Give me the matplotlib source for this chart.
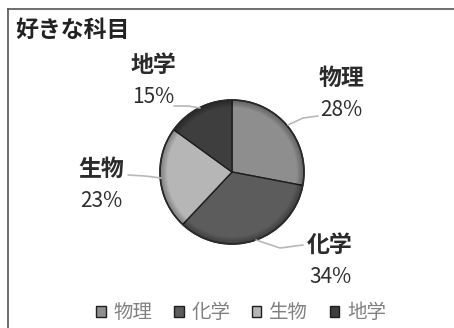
import numpy as np
import matplotlib
matplotlib.use('Agg')
import matplotlib.pyplot as plt
from matplotlib.patches import Wedge
from matplotlib.lines import Line2D

plt.rcParams['font.family'] = ['Noto Sans CJK JP', 'DejaVu Sans']

TITLE = '好きな科目'
subjects = ['物理', '化学', '生物', '地学']
shares = [28, 34, 23, 15]
slice_colors = ['#8e8e8e', '#5c5c5c', '#b6b6b6', '#3e3e3e']

W, H = 454, 328
CX, CY, R = 232, 172, 72   # pie centre and radius in pixels


def px(x, y):
    # pixel position -> data coords (1 unit = pie radius)
    return (x - CX) / R, (CY - y) / R


fig = plt.figure(figsize=(W / 100, H / 100), dpi=100)
ax = fig.add_axes([0, 0, 1, 1])

wedges, _ = ax.pie(shares, colors=slice_colors, startangle=90, counterclock=False,
                   radius=1.0, wedgeprops=dict(edgecolor='#1e1e1e', linewidth=1.0))

# pie() resets the limits, so set them afterwards
ax.set_xlim(-CX / R, (W - CX) / R)
ax.set_ylim(-(H - CY) / R, CY / R)
ax.set_aspect('equal')
ax.axis('off')

# bevel: darken towards the rim
for i in range(8):
    ax.add_patch(Wedge((0, 0), 1.0, 0, 360, width=0.012 * (8 - i),
                       facecolor='black', alpha=0.04, edgecolor='none'))
ax.add_patch(Wedge((0, 0), 1.0, 0, 360, width=1.0, facecolor='none',
                   edgecolor='#2a2a2a', linewidth=1.2))

# labels and leader lines
label_pos = {'物理': (341, 94), '化学': (330, 261), '生物': (101, 185), '地学': (153, 81)}
leaders = {
    '物理': [(288, 125), (303, 118), (318, 116)],
    '化学': [(256, 240), (280, 248), (303, 245)],
    '生物': [(161, 178), (145, 176), (128, 175)],
    '地学': [(200, 108), (188, 106), (174, 106)],
}
for name, val in zip(subjects, shares):
    xs, ys = zip(*[px(x, y) for x, y in leaders[name]])
    ax.plot(xs, ys, color='#b8b8b8', lw=1.2, solid_capstyle='round')
    lx, ly = label_pos[name]
    ax.text(*px(lx, ly - 16), name, ha='center', va='center', fontsize=16.5,
            color='#2a2a2a', fontweight='bold')
    ax.text(*px(lx, ly + 16), f'{val}%', ha='center', va='center', fontsize=15,
            color='#2e2e2e')

ax.text(*px(15, 30), TITLE, ha='left', va='center', fontsize=16.5, color='#222222',
        fontweight='bold')

leg = ax.legend(wedges, subjects, ncol=4, loc='center', bbox_to_anchor=(241 / W, 1 - 313 / H),
                bbox_transform=fig.transFigure, frameon=False, fontsize=14,
                handlelength=0.5, handleheight=0.5, handletextpad=0.4, columnspacing=1.1)
for t in leg.get_texts():
    t.set_color('#808080')

# frame, open on the right and bottom
fig.add_artist(Line2D([8 / W, 8 / W], [0, 1 - 9 / H], color='#555555', lw=1.2))
fig.add_artist(Line2D([8 / W, 1], [1 - 9 / H, 1 - 9 / H], color='#555555', lw=1.2))

fig.savefig('out.png', dpi=100, facecolor='white')
